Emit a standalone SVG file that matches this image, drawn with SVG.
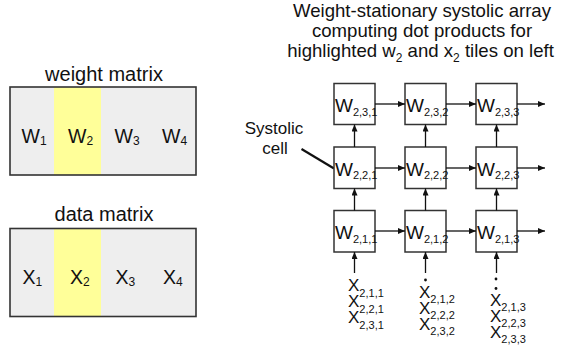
<svg xmlns="http://www.w3.org/2000/svg" width="565" height="354" viewBox="0 0 565 354">
<style>
text{font-family:"Liberation Sans",Arial,Helvetica,sans-serif;fill:#111}
.title{font-size:18.6px;text-anchor:middle}
.head{font-size:20px;text-anchor:middle}
.mat{fill:#eeeeee;stroke:none}
.hl{fill:#ffff99;stroke:none}
.frame{fill:none;stroke:#333;stroke-width:1.6}
.ml{font-size:19.5px}
.msub{font-size:12px}
.cell{fill:#fff;stroke:#333;stroke-width:1.5}
.cw{font-size:19px}
.csub{font-size:11px}
.xl{font-size:17px}
.xs{font-size:11px}
.lbl{font-size:17px;text-anchor:middle}
.conn line{stroke:#111;stroke-width:1.3;fill:none}
.ptr{stroke:#111;stroke-width:2.2}
</style>
<defs>
<marker id="ah" markerUnits="userSpaceOnUse" markerWidth="8" markerHeight="6" refX="7" refY="3" orient="auto">
<path d="M0,0 L7,3 L0,6 z" fill="#111"/>
</marker>
</defs>

<g id="title">
<text class="title" x="422" y="17">Weight-stationary systolic array</text>
<text class="title" x="422" y="37">computing dot products for</text>
<text class="title" x="420.5" y="57">highlighted w<tspan font-size="12" dy="5">2</tspan><tspan dy="-5"> and x</tspan><tspan font-size="12" dy="5">2</tspan><tspan dy="-5"> tiles on left</tspan></text>
</g>

<g id="weight-matrix">
<text class="head" x="104" y="81">weight matrix</text>
<rect class="mat" x="10" y="87" width="186" height="88"/>
<rect class="hl" x="54" y="87" width="47" height="88"/>
<rect class="frame" x="10" y="87" width="186" height="88"/>
<text class="ml" x="21.5" y="143">W<tspan class="msub" dy="2">1</tspan></text>
<text class="ml" x="68" y="143">W<tspan class="msub" dy="2">2</tspan></text>
<text class="ml" x="114.5" y="143">W<tspan class="msub" dy="2">3</tspan></text>
<text class="ml" x="162" y="143">W<tspan class="msub" dy="2">4</tspan></text>
</g>

<g id="data-matrix">
<text class="head" x="104" y="221">data matrix</text>
<rect class="mat" x="10" y="228.5" width="186" height="88"/>
<rect class="hl" x="54" y="228.5" width="47" height="88"/>
<rect class="frame" x="10" y="228.5" width="186" height="88"/>
<text class="ml" x="22.5" y="283.5">X<tspan class="msub" dy="2.5">1</tspan></text>
<text class="ml" x="70" y="283.5">X<tspan class="msub" dy="2.5">2</tspan></text>
<text class="ml" x="115.5" y="283.5">X<tspan class="msub" dy="2.5">3</tspan></text>
<text class="ml" x="163" y="283.5">X<tspan class="msub" dy="2.5">4</tspan></text>
</g>

<g id="systolic-label">
<text class="lbl" x="274" y="134">Systolic</text>
<text class="lbl" x="275" y="154">cell</text>
<line class="ptr" x1="301.5" y1="149" x2="334" y2="168.5"/>
</g>

<g id="cell-231"><rect class="cell" x="334" y="83.5" width="41" height="41"/><text class="cw" x="335" y="112">W<tspan class="csub" dy="3.6">2,3,1</tspan></text></g>
<g id="cell-232"><rect class="cell" x="405" y="83.5" width="41" height="41"/><text class="cw" x="406" y="112">W<tspan class="csub" dy="3.6">2,3,2</tspan></text></g>
<g id="cell-233"><rect class="cell" x="476" y="83.5" width="41" height="41"/><text class="cw" x="477" y="112">W<tspan class="csub" dy="3.6">2,3,3</tspan></text></g>
<g id="cell-221"><rect class="cell" x="334" y="147" width="41" height="41.5"/><text class="cw" x="335" y="175.7">W<tspan class="csub" dy="3.6">2,2,1</tspan></text></g>
<g id="cell-222"><rect class="cell" x="405" y="147" width="41" height="41.5"/><text class="cw" x="406" y="175.7">W<tspan class="csub" dy="3.6">2,2,2</tspan></text></g>
<g id="cell-223"><rect class="cell" x="476" y="147" width="41" height="41.5"/><text class="cw" x="477" y="175.7">W<tspan class="csub" dy="3.6">2,2,3</tspan></text></g>
<g id="cell-211"><rect class="cell" x="334" y="210.5" width="41" height="41.5"/><text class="cw" x="335" y="239">W<tspan class="csub" dy="3.6">2,1,1</tspan></text></g>
<g id="cell-212"><rect class="cell" x="405" y="210.5" width="41" height="41.5"/><text class="cw" x="406" y="239">W<tspan class="csub" dy="3.6">2,1,2</tspan></text></g>
<g id="cell-213"><rect class="cell" x="476" y="210.5" width="41" height="41.5"/><text class="cw" x="477" y="239">W<tspan class="csub" dy="3.6">2,1,3</tspan></text></g>

<g id="connectors" class="conn">
<line x1="375" y1="104" x2="405" y2="104" marker-end="url(#ah)"/>
<line x1="446" y1="104" x2="476" y2="104" marker-end="url(#ah)"/>
<line x1="517" y1="104" x2="545" y2="104" marker-end="url(#ah)"/>
<line x1="375" y1="168" x2="405" y2="168" marker-end="url(#ah)"/>
<line x1="446" y1="168" x2="476" y2="168" marker-end="url(#ah)"/>
<line x1="517" y1="168" x2="545" y2="168" marker-end="url(#ah)"/>
<line x1="375" y1="231" x2="405" y2="231" marker-end="url(#ah)"/>
<line x1="446" y1="231" x2="476" y2="231" marker-end="url(#ah)"/>
<line x1="517" y1="231" x2="545" y2="231" marker-end="url(#ah)"/>
<line x1="354.5" y1="147" x2="354.5" y2="124.5" marker-end="url(#ah)"/>
<line x1="425.5" y1="147" x2="425.5" y2="124.5" marker-end="url(#ah)"/>
<line x1="496.5" y1="147" x2="496.5" y2="124.5" marker-end="url(#ah)"/>
<line x1="354.5" y1="210.5" x2="354.5" y2="188.5" marker-end="url(#ah)"/>
<line x1="425.5" y1="210.5" x2="425.5" y2="188.5" marker-end="url(#ah)"/>
<line x1="496.5" y1="210.5" x2="496.5" y2="188.5" marker-end="url(#ah)"/>
<line x1="354.5" y1="273" x2="354.5" y2="252" marker-end="url(#ah)"/>
<line x1="425.5" y1="273" x2="425.5" y2="252" marker-end="url(#ah)"/>
<line x1="496.5" y1="273" x2="496.5" y2="252" marker-end="url(#ah)"/>
</g>

<g id="inputs-col1">
<text class="xl" x="348" y="291">X<tspan class="xs" dy="5.5">2,1,1</tspan></text>
<text class="xl" x="348" y="307">X<tspan class="xs" dy="5.5">2,2,1</tspan></text>
<text class="xl" x="348" y="323">X<tspan class="xs" dy="5.5">2,3,1</tspan></text>
</g>
<g id="inputs-col2">
<circle cx="425.5" cy="280" r="1.4" fill="#111"/>
<text class="xl" x="419" y="297.5">X<tspan class="xs" dy="5.5">2,1,2</tspan></text>
<text class="xl" x="419" y="313.5">X<tspan class="xs" dy="5.5">2,2,2</tspan></text>
<text class="xl" x="419" y="329.5">X<tspan class="xs" dy="5.5">2,3,2</tspan></text>
</g>
<g id="inputs-col3">
<circle cx="496" cy="279" r="1.4" fill="#111"/>
<circle cx="496" cy="288.5" r="1.4" fill="#111"/>
<text class="xl" x="490" y="305.5">X<tspan class="xs" dy="5.5">2,1,3</tspan></text>
<text class="xl" x="490" y="321.5">X<tspan class="xs" dy="5.5">2,2,3</tspan></text>
<text class="xl" x="490" y="337.5">X<tspan class="xs" dy="5.5">2,3,3</tspan></text>
</g>
</svg>
